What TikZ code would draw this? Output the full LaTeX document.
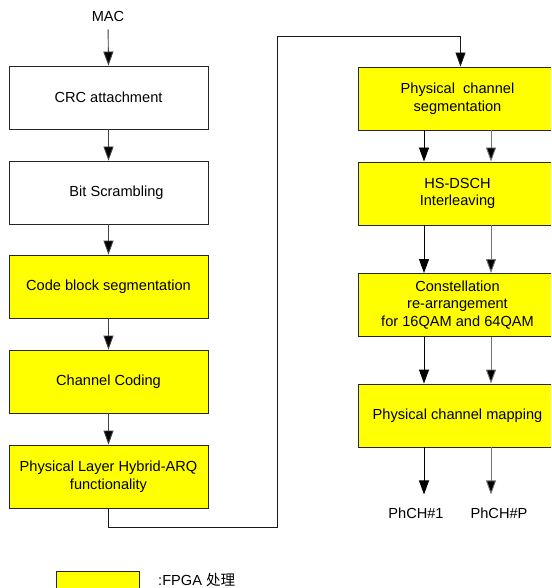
\documentclass[tikz,border=0pt]{standalone}
\usepackage{fontspec}
\setmainfont{Liberation Sans}
\newfontfamily\cjk{Noto Sans CJK SC}
\usetikzlibrary{arrows.meta,positioning}
\definecolor{fpga}{HTML}{FFFF00}
\begin{document}
\begin{tikzpicture}[x=1pt,y=-1pt,
  font=\fontsize{14.6}{17.5}\selectfont,
  box/.style={draw=black!85,line width=0.9pt,minimum width=199pt,minimum height=63pt,inner sep=0pt,align=center},
  fbox/.style={box,fill=fpga},
  wbox/.style={box,fill=white},
  arr/.style={draw=black!75,line width=0.9pt,-{Triangle[length=14pt,width=10pt,fill=black]}},
  lbl/.style={inner sep=0pt}]
\useasboundingbox (0,0) rectangle (551,588);
\clip (0,0) rectangle (551,588);
% left column
\node[lbl] (mac) at (108,16) {MAC};
\node[wbox] (crc) at (108.5,97.5) {CRC attachment};
\node[wbox] (bit) at (108.5,192.5) {\hspace*{16pt}Bit Scrambling};
\node[fbox] (cbs) at (108.5,286.5) {Code block segmentation};
\node[fbox] (cc) at (108.5,381.5) {Channel Coding};
\node[fbox] (harq) at (108.5,476.5) {Physical Layer Hybrid-ARQ\\functionality};
% right column
\node[fbox] (seg) at (457.5,98.5) {Physical\ \ channel\\segmentation};
\node[fbox] (hs) at (457.5,193.5) {HS-DSCH\\Interleaving};
\node[fbox] (con) at (457.5,305) {Constellation\\re-arrangement\\for 16QAM and 64QAM};
\node[fbox] (map) at (457.5,415.5) {Physical channel mapping};
\node[lbl] (p1) at (416,513) {PhCH\#1};
\node[lbl] (pp) at (499,513) {PhCH\#P};
% legend
\node[draw=black!85,line width=0.9pt,fill=fpga,minimum width=83pt,minimum height=34pt,inner sep=0pt] (leg) at (97.5,588) {};
\node[lbl,anchor=west] (legt) at (158,580) {:FPGA {\cjk 处理}};
% connectors left
\draw[arr,shorten <=8pt] (mac.south) -- (crc.north);
\draw[arr] (crc.south) -- (bit.north);
\draw[arr] (bit.south) -- (cbs.north);
\draw[arr] (cbs.south) -- (cc.north);
\draw[arr] (cc.south) -- (harq.north);
% long connector
\coordinate (b1) at (277,527);
\coordinate (t1) at (277,36);
\draw[arr,draw=black!90] (harq.south) |- (b1) -- (t1) -| ([xshift=3pt]seg.north);
% right double arrows
\foreach \a/\b in {seg/hs,hs/con,con/map}{
  \draw[arr,draw=black] ([xshift=-33.5pt]\a.south) -- ([xshift=-33.5pt]\b.north);
  \draw[arr,draw=black!55] ([xshift=33.5pt]\a.south) -- ([xshift=33.5pt]\b.north);
}
\draw[arr,draw=black] ([xshift=-33.5pt]map.south) -- ++(0,47);
\draw[arr,draw=black!55] ([xshift=33.5pt]map.south) -- ++(0,47);
\end{tikzpicture}
\end{document}
